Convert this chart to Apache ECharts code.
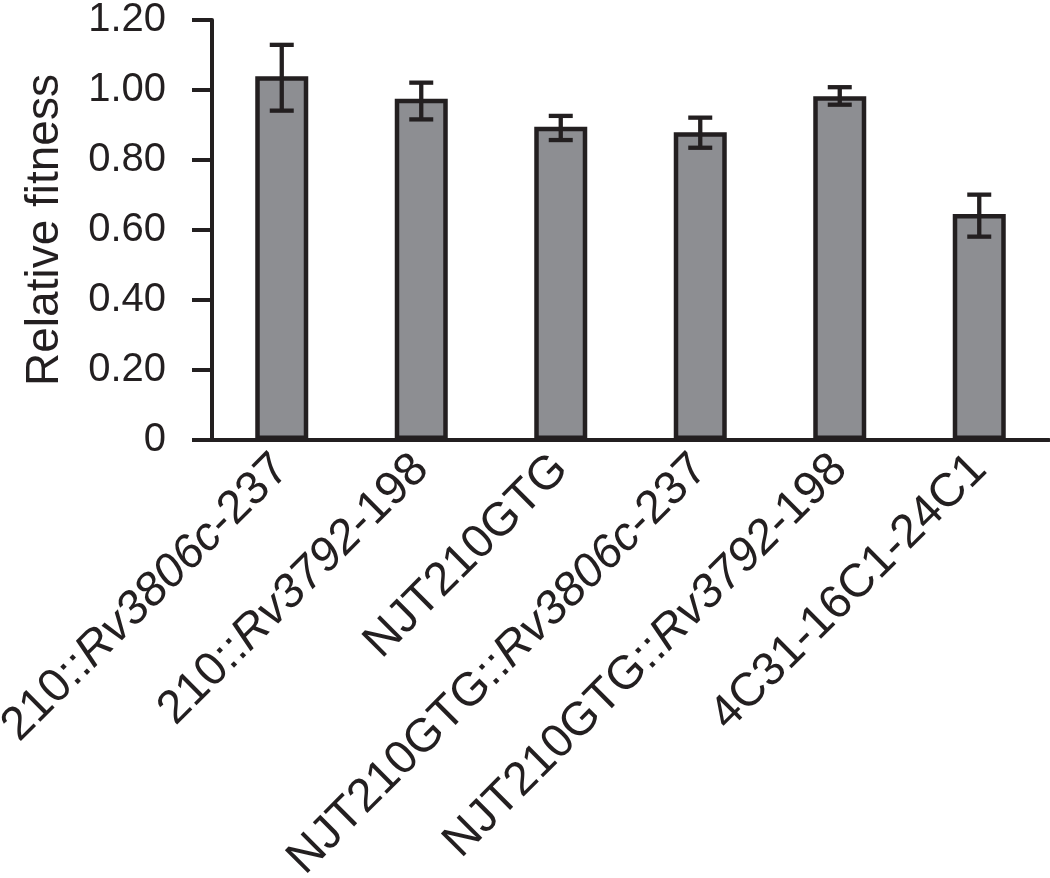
<!DOCTYPE html>
<html>
<head>
<meta charset="utf-8">
<script src="https://cdn.jsdelivr.net/npm/echarts@6/dist/echarts.min.js"></script>
<style>
  html, body { margin: 0; padding: 0; background: #fff; }
  #chart { width: 1050px; height: 878px; }
</style>
</head>
<body>
<div id="chart"></div>
<script>
// strains on the x axis
var categories = ['210::Rv3806c-237', '210::Rv3792-198', 'NJT210GTG',
  'NJT210GTG::Rv3806c-237', 'NJT210GTG::Rv3792-198', '4C31-16C1-24C1'];
// mean relative fitness
var fitness = [1.039, 0.975, 0.895, 0.879, 0.982, 0.646];
// error bar ends
var errUpper = [1.129, 1.021, 0.926, 0.921, 1.008, 0.701];
var errLower = [0.941, 0.916, 0.857, 0.835, 0.958, 0.581];
var yTicks = [0, 0.2, 0.4, 0.6, 0.8, 1.0, 1.2];

var ink = '#231f20';
var font = 'Liberation Sans, Arial, Helvetica, sans-serif';

var chart = echarts.init(document.getElementById('chart'));

// gene names are set in italics
function labelFormatter(name) {
  var parts = name.split(/(Rv\d+c?)/);
  return parts.filter(function (p) { return p !== ''; }).map(function (p) {
    return /^Rv\d+c?$/.test(p) ? '{i|' + p + '}' : '{n|' + p + '}';
  }).join('');
}

var option = {
  animation: false,
  backgroundColor: '#fff',
  grid: { left: 212, right: 1, top: 20, bottom: 438, outerBoundsMode: 'none', containLabel: false },
  xAxis: {
    type: 'category',
    data: categories,
    axisLine: { lineStyle: { color: ink, width: 4 } },
    axisTick: { show: false },
    axisLabel: {
      rotate: 45,
      interval: 0,
      margin: 22,
      formatter: labelFormatter,
      rich: {
        n: { fontFamily: font, fontSize: 47, color: ink },
        i: { fontFamily: font, fontSize: 47, color: ink, fontStyle: 'italic' }
      }
    }
  },
  yAxis: {
    type: 'value',
    min: 0,
    max: 1.2,
    interval: 0.2,
    name: 'Relative fitness',
    nameLocation: 'middle',
    nameGap: 144,
    nameTextStyle: { fontFamily: font, fontSize: 46, color: ink },
    axisLine: { show: true, lineStyle: { color: ink, width: 4 } },
    axisTick: { show: true, length: 20, lineStyle: { color: ink, width: 4 } },
    splitLine: { show: false },
    axisLabel: {
      margin: 46,
      fontFamily: font,
      fontSize: 40,
      color: ink,
      formatter: function (v) {
        var t = yTicks.indexOf(Math.round(v * 10) / 10);
        return t === 0 ? '0' : v.toFixed(2);
      }
    }
  },
  series: [
    {
      type: 'bar',
      data: fitness,
      barWidth: 53,
      itemStyle: { color: '#8d8e92', borderColor: ink, borderWidth: 4.5 },
      z: 2
    },
    {
      type: 'custom',
      data: categories.map(function (c, i) { return [i, errLower[i], errUpper[i]]; }),
      z: 3,
      renderItem: function (params, api) {
        var lo = api.coord([api.value(0), api.value(1)]);
        var hi = api.coord([api.value(0), api.value(2)]);
        var half = 12;
        var style = { stroke: ink, lineWidth: 4.3 };
        return {
          type: 'group',
          children: [
            { type: 'line', shape: { x1: hi[0], y1: hi[1], x2: lo[0], y2: lo[1] }, style: style },
            { type: 'line', shape: { x1: hi[0] - half, y1: hi[1], x2: hi[0] + half, y2: hi[1] }, style: style },
            { type: 'line', shape: { x1: lo[0] - half, y1: lo[1], x2: lo[0] + half, y2: lo[1] }, style: style }
          ]
        };
      }
    }
  ]
};

chart.setOption(option);
</script>
</body>
</html>
